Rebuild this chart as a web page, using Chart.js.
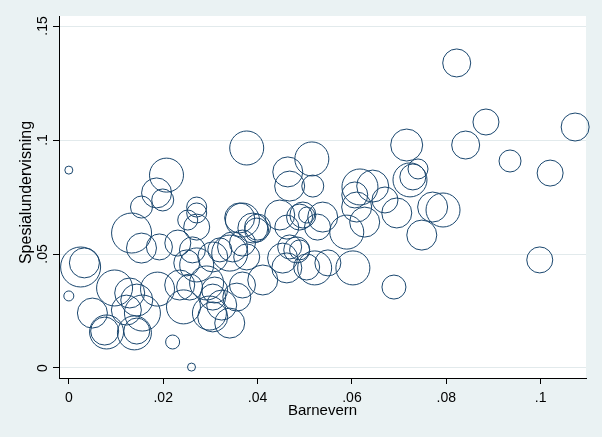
<!DOCTYPE html>
<html><head><meta charset="utf-8">
<script src="https://cdn.jsdelivr.net/npm/chart.js@4.4.1/dist/chart.umd.min.js"></script>
<style>html,body{margin:0;padding:0;background:#eaf2f3;}#wrap{width:602px;height:437px;}</style>
</head><body><div id="wrap"><canvas id="c" width="602" height="437"></canvas></div>
<script>
// ---- data ----
const barnevern = [
0.0000,0.0000,0.0220,0.0260,0.0822,0.0884,0.0841,0.1073,0.0935,0.1020,
0.0998,0.0689,0.0748,0.0716,0.0377,0.0207,0.0025,0.0033,0.0050,0.0080,
0.0076,0.0097,0.0122,0.0129,0.0139,0.0144,0.0156,0.0144,0.0188,0.0243,
0.0133,0.0154,0.0192,0.0231,0.0186,0.0199,0.0154,0.0252,0.0271,0.0271,
0.0271,0.0262,0.0250,0.0271,0.0235,0.0292,0.0309,0.0305,0.0256,0.0298,
0.0305,0.0341,0.0305,0.0341,0.0320,0.0347,0.0368,0.0368,0.0411,0.0377,
0.0362,0.0368,0.0390,0.0398,0.0400,0.0453,0.0462,0.0447,0.0462,0.0489,
0.0504,0.0468,0.0489,0.0464,0.0468,0.0515,0.0517,0.0496,0.0527,0.0538,
0.0483,0.0504,0.0521,0.0549,0.0602,0.0589,0.0610,0.0627,0.0606,0.0617,
0.0644,0.0670,0.0695,0.0723,0.0729,0.0740,0.0771,0.0793,0.0324,0.0356];
const spesialundervisning = [
0.0868,0.0316,0.0114,0.0004,0.1338,0.1079,0.0978,0.1057,0.0908,0.0855,
0.0474,0.0355,0.0583,0.0978,0.0965,0.0846,0.0443,0.0461,0.0241,0.0158,
0.0162,0.0351,0.0254,0.0329,0.0154,0.0162,0.0241,0.0298,0.0346,0.0268,
0.0592,0.0526,0.0531,0.0548,0.0768,0.0737,0.0706,0.0649,0.0706,0.0680,
0.0618,0.0518,0.0461,0.0452,0.0364,0.0373,0.0342,0.0311,0.0355,0.0241,
0.0224,0.0197,0.0487,0.0504,0.0518,0.0531,0.0548,0.0364,0.0386,0.0487,
0.0658,0.0649,0.0614,0.0605,0.0618,0.0482,0.0439,0.0671,0.0618,0.0662,
0.0671,0.0531,0.0518,0.0860,0.0798,0.0917,0.0798,0.0671,0.0618,0.0662,
0.0518,0.0443,0.0439,0.0461,0.0439,0.0596,0.0706,0.0640,0.0759,0.0794,
0.0798,0.0737,0.0680,0.0825,0.0838,0.0873,0.0706,0.0693,0.0276,0.0311];
const weight = [
16,25,49,16,196,169,196,196,121,169,
169,144,225,256,289,289,400,225,225,289,
196,324,225,225,289,169,324,256,289,289,
400,225,169,169,225,121,121,100,100,100,
169,169,169,289,225,289,169,169,169,289,
225,225,225,324,144,225,169,169,225,169,
225,289,225,144,169,225,225,225,144,169,
64,144,100,225,225,289,121,169,169,225,
169,169,289,169,289,289,225,225,169,324,
256,169,225,289,169,100,225,289,225,196];
const xTickValues = [0, 0.02, 0.04, 0.06, 0.08, 0.1];
const xTickLabels = ['0', '.02', '.04', '.06', '.08', '.1'];
const yTickValues = [0, 0.05, 0.1, 0.15];
const yTickLabels = ['0', '.05', '.1', '.15'];
const xTitle = 'Barnevern';
const yTitle = 'Spesialundervisning';

// ---- styles ----
const FONT = '"Liberation Sans", Arial, sans-serif';
const OUTER_BG = '#eaf2f3';
const MARK = '#1a476f';

const points = barnevern.map((x, i) => ({x: x, y: spesialundervisning[i], r: Math.sqrt(weight[i])}));

function zeroPad(s) { s.paddingLeft = 0; s.paddingRight = 0; s.paddingTop = 0; s.paddingBottom = 0; }

const bgPlugin = {
  id: 'bg',
  beforeDraw(chart) {
    const {ctx, chartArea: a} = chart;
    ctx.save();
    ctx.fillStyle = OUTER_BG;
    ctx.fillRect(0, 0, chart.width, chart.height);
    ctx.fillStyle = '#ffffff';
    ctx.fillRect(a.left, a.top, a.right - a.left, a.bottom - a.top);
    ctx.restore();
  }
};
const yLabelPlugin = {
  id: 'ylabels',
  afterDraw(chart) {
    const {ctx} = chart;
    const ys = chart.scales.y;
    ctx.save();
    ctx.fillStyle = '#000';
    ctx.textAlign = 'center';
    ctx.textBaseline = 'alphabetic';
    ctx.font = '14px ' + FONT;
    yTickValues.forEach((v, i) => {
      const py = ys.getPixelForValue(v);
      ctx.save();
      ctx.translate(46.5, py);
      ctx.rotate(-Math.PI / 2);
      ctx.fillText(yTickLabels[i], 0, 0);
      ctx.restore();
    });
    ctx.font = '16px ' + FONT;
    ctx.save();
    ctx.translate(31, ys.getPixelForValue(0.077));
    ctx.rotate(-Math.PI / 2);
    ctx.fillText(yTitle, 0, 0);
    ctx.restore();
    ctx.restore();
  }
};

new Chart(document.getElementById('c'), {
  type: 'bubble',
  data: {datasets: [{
    data: points,
    backgroundColor: 'rgba(0,0,0,0)',
    borderColor: MARK,
    borderWidth: 1,
    hoverBorderWidth: 1,
    clip: false
  }]},
  options: {
    responsive: false,
    animation: false,
    events: [],
    layout: {autoPadding: false, padding: {left: 0, top: 16, right: 16, bottom: 0}},
    plugins: {legend: {display: false}, tooltip: {enabled: false}},
    scales: {
      x: {
        type: 'linear', min: -0.00208, max: 0.1096,
        afterBuildTicks: s => { s.ticks = xTickValues.map(v => ({value: v})); },
        afterFit: s => { s.height = 59; zeroPad(s); },
        grid: {drawOnChartArea: false, drawTicks: true, tickLength: 6, tickColor: '#000'},
        border: {display: true, color: '#000', width: 1},
        ticks: {
          color: '#000', font: {family: FONT, size: 14}, padding: 5.5,
          maxRotation: 0, minRotation: 0, autoSkip: false,
          callback: (v, i) => xTickLabels[i]
        },
        title: {display: true, text: xTitle, color: '#000', font: {family: FONT, size: 15}, padding: {top: 0, bottom: 17}}
      },
      y: {
        type: 'linear', min: -0.00439, max: 0.1544,
        afterBuildTicks: s => { s.ticks = yTickValues.map(v => ({value: v})); },
        afterFit: s => { s.width = 59; zeroPad(s); },
        grid: {color: '#e2eaec', lineWidth: 1, drawTicks: true, tickLength: 6, tickColor: '#000'},
        border: {display: true, color: '#000', width: 1},
        ticks: {display: false},
        title: {display: false}
      }
    }
  },
  plugins: [bgPlugin, yLabelPlugin]
});
</script>
</body></html>
